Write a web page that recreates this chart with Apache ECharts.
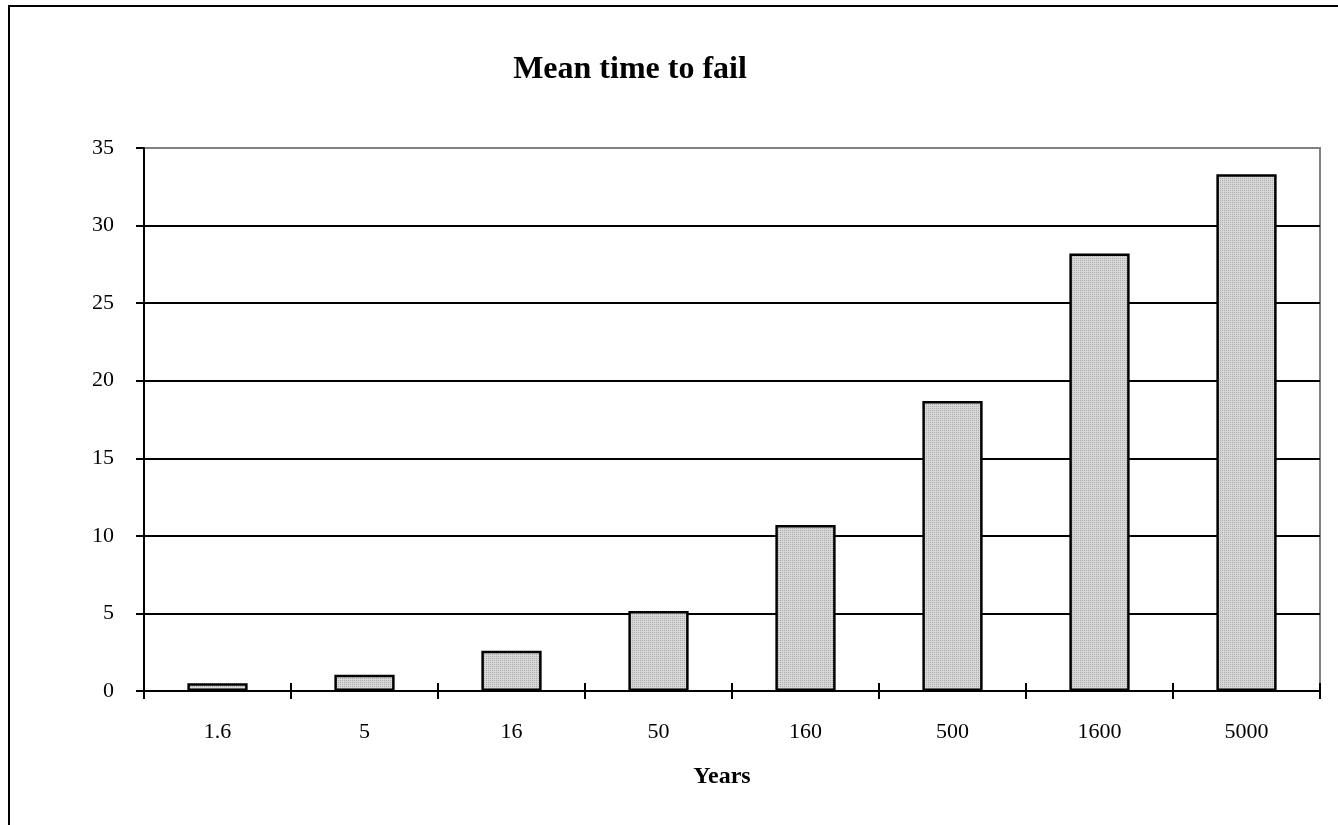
<!DOCTYPE html>
<html>
<head>
<meta charset="utf-8">
<script src="https://cdn.jsdelivr.net/npm/echarts@6/dist/echarts.min.js"></script>
<style>
  html, body { margin: 0; padding: 0; background: #fff; }
  #chart { width: 1338px; height: 825px; }
  .frame {
    position: absolute;
    left: 8px;
    top: 5px;
    width: 2000px;
    height: 2000px;
    border-top: 2px solid #000;
    border-left: 2px solid #000;
    pointer-events: none;
  }
</style>
</head>
<body>
<div id="chart"></div>
<div class="frame"></div>
<script>
const categories = ['1.6', '5', '16', '50', '160', '500', '1600', '5000']
const meanTimeToFail = [0.5, 1.05, 2.6, 5.15, 10.7, 18.7, 28.2, 33.3]
const yTicks = [0, 5, 10, 15, 20, 25, 30, 35]

const FONT = '"Liberation Serif", "Times New Roman", serif'

// stippled grey fill like the original
function stipple() {
  const c = document.createElement('canvas')
  c.width = 2
  c.height = 2
  const ctx = c.getContext('2d')
  ctx.fillStyle = '#d8d8d8'
  ctx.fillRect(0, 0, 2, 2)
  ctx.fillStyle = '#acacac'
  ctx.fillRect(0, 0, 1, 1)
  return c
}

const chart = echarts.init(document.getElementById('chart'))

const gridColors = yTicks.map((v, i) => (i === yTicks.length - 1 ? '#808080' : '#000'))

chart.setOption({
  backgroundColor: '#fff',
  animation: false,
  title: {
    text: 'Mean time to fail',
    left: 625,
    top: 49,
    textAlign: 'center',
    textStyle: { fontFamily: FONT, fontSize: 32, fontWeight: 'bold', color: '#000' }
  },
  grid: {
    left: 144,
    top: 148,
    right: 18,
    bottom: 134,
    show: true,
    borderColor: '#808080',
    borderWidth: 2
  },
  xAxis: [
    {
      type: 'category',
      data: categories,
      name: 'Years',
      nameLocation: 'middle',
      nameGap: 74,
      nameTextStyle: {
        fontFamily: FONT, fontSize: 24, fontWeight: 'bold', color: '#000',
        padding: [0, 20, 0, 0]
      },
      axisLine: { lineStyle: { color: '#000', width: 2 } },
      axisTick: { show: true, length: 8, lineStyle: { color: '#000', width: 2 } },
      axisLabel: { margin: 30, fontFamily: FONT, fontSize: 22, color: '#000' }
    },
    {
      type: 'category',
      data: categories,
      position: 'bottom',
      axisLine: { show: false },
      axisTick: { show: true, inside: true, length: 8, lineStyle: { color: '#000', width: 2 } },
      axisLabel: { show: false }
    }
  ],
  yAxis: {
    type: 'value',
    min: 0,
    max: 35,
    interval: 5,
    axisLine: { show: true, lineStyle: { color: '#000', width: 2 } },
    axisTick: { show: true, length: 8, lineStyle: { color: '#000', width: 2 } },
    axisLabel: { margin: 30, fontFamily: FONT, fontSize: 22, color: '#000' },
    splitLine: { lineStyle: { color: gridColors, width: 2 } }
  },
  series: [
    {
      type: 'bar',
      data: meanTimeToFail,
      barWidth: '41%',
      itemStyle: {
        color: { image: stipple(), repeat: 'repeat' },
        borderColor: '#000',
        borderWidth: 2.5
      }
    }
  ]
})
</script>
</body>
</html>
